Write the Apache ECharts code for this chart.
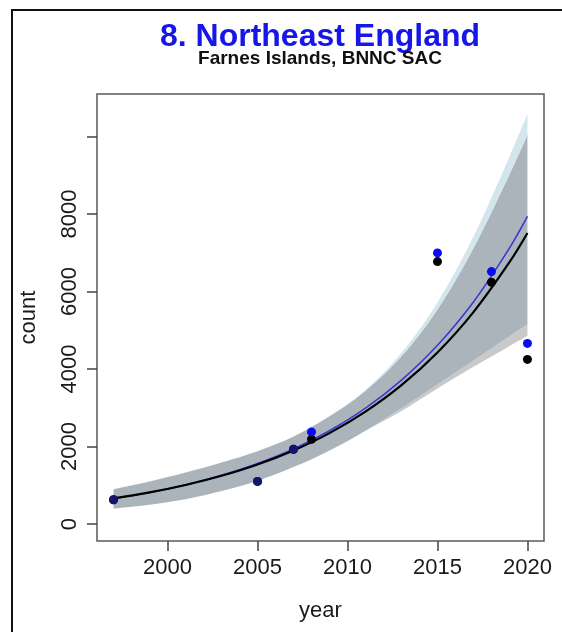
<!DOCTYPE html>
<html>
<head>
<meta charset="utf-8">
<title>8. Northeast England</title>
<script src="https://cdn.jsdelivr.net/npm/echarts@6/dist/echarts.min.js"></script>
<style>
  html, body { margin: 0; padding: 0; background: #fff; }
  #chart { width: 562px; height: 632px; }
</style>
</head>
<body>
<div id="chart"></div>
<script>
// Survey counts (two count series per survey year)
const surveyYears = [1997, 2005, 2007, 2008, 2015, 2018, 2020];
const countsBlue  = [626, 1100, 1931, 2377, 6997, 6516, 4661];
const countsBlack = [626, 1100, 1931, 2189, 6773, 6240, 4249];

// Fitted trend curves and confidence bands, sampled along the years
const fitYears  = [1997, 1999, 2001, 2003, 2005, 2007, 2009, 2011, 2013, 2015, 2017, 2019, 2020];
const fitBlack  = [660, 815, 1007, 1245, 1538, 1900, 2347, 2900, 3583, 4427, 5469, 6757, 7512];
const fitBlue   = [655, 814, 1011, 1256, 1560, 1937, 2407, 2990, 3715, 4614, 5732, 7120, 7938];
const bandOuterLow  = [400, 500, 640, 850, 1120, 1470, 1900, 2410, 2920, 3500, 4060, 4590, 4850];
const bandInnerLow  = [400, 500, 640, 850, 1120, 1470, 1900, 2410, 2990, 3600, 4220, 4840, 5150];
const bandInnerHigh = [900, 1100, 1330, 1590, 1880, 2260, 2780, 3440, 4330, 5540, 7120, 9020, 10050];
const bandOuterHigh = [900, 1100, 1330, 1590, 1880, 2260, 2780, 3460, 4420, 5720, 7420, 9480, 10580];

// Axis ticks and labels
const xTicks  = [2000, 2005, 2010, 2015, 2020];
const yTicks  = [0, 2000, 4000, 6000, 8000, 10000];
const yLabels = [0, 2000, 4000, 6000, 8000];

const FONT = '"Liberation Sans", Arial, Helvetica, sans-serif';

const pairs = (xs, ys) => xs.map((x, i) => [x, ys[i]]);

// Band strips are stacked on the count dimension: rows are [thickness, year]
// so that the first (stackable) dimension is the count, mapped to the y axis.
const strip = (hi, lo) => fitYears.map((yr, i) => [lo ? hi[i] - lo[i] : hi[i], yr]);
const bandLayer = (rows, color) => ({
  type: 'line',
  stack: 'band',
  data: rows,
  encode: { x: 1, y: 0 },
  smooth: 0.35,
  symbol: 'none',
  lineStyle: { width: 0, opacity: 0 },
  areaStyle: color ? { color: color, opacity: 1 } : { opacity: 0 },
  silent: true,
  z: 1
});

const chart = echarts.init(document.getElementById('chart'), null, { renderer: 'canvas' });

chart.setOption({
  animation: false,
  backgroundColor: '#ffffff',
  graphic: [
    {
      type: 'rect',
      shape: { x: 12, y: 10, width: 700, height: 800 },
      style: { fill: 'none', stroke: '#111', lineWidth: 2 },
      z: 0
    },
    {
      type: 'text',
      x: 320, y: 37,
      style: {
        text: '8. Northeast England',
        font: 'bold 32px ' + FONT,
        fill: '#1616e8',
        align: 'center',
        verticalAlign: 'middle'
      }
    },
    {
      type: 'text',
      x: 320, y: 59,
      style: {
        text: 'Farnes Islands, BNNC SAC',
        font: 'bold 19px ' + FONT,
        fill: '#111',
        align: 'center',
        verticalAlign: 'middle'
      }
    }
  ],
  grid: {
    left: 97, top: 94, width: 447, height: 447,
    show: true,
    borderColor: '#5a5a5a',
    borderWidth: 1.5,
    backgroundColor: 'transparent'
  },
  xAxis: {
    type: 'value',
    min: 1996.08,
    max: 2020.92,
    splitLine: { show: false },
    axisLine: { show: false, onZero: false },
    axisTick: {
      show: true,
      customValues: xTicks,
      length: 10,
      lineStyle: { color: '#444', width: 1.5 }
    },
    axisLabel: {
      customValues: xTicks,
      formatter: (v) => String(v),
      fontSize: 22,
      fontFamily: FONT,
      color: '#1a1a1a',
      margin: 16
    },
    name: 'year',
    nameLocation: 'middle',
    nameGap: 59,
    nameTextStyle: { fontSize: 22, fontFamily: FONT, color: '#1a1a1a' }
  },
  yAxis: {
    type: 'value',
    min: -438,
    max: 11099,
    splitLine: { show: false },
    axisLine: { show: false, onZero: false },
    axisTick: {
      show: true,
      customValues: yTicks,
      length: 10,
      lineStyle: { color: '#444', width: 1.5 }
    },
    axisLabel: {
      customValues: yLabels,
      formatter: (v) => String(v),
      rotate: 90,
      fontSize: 22,
      fontFamily: FONT,
      color: '#1a1a1a',
      margin: 16
    },
    name: 'count',
    nameLocation: 'middle',
    nameRotate: 90,
    nameGap: 57,
    nameTextStyle: { fontSize: 22, fontFamily: FONT, color: '#1a1a1a' }
  },
  series: [
    bandLayer(strip(bandOuterLow), null),
    bandLayer(strip(bandInnerLow, bandOuterLow), '#c9c9c9'),
    bandLayer(strip(bandInnerHigh, bandInnerLow), '#abb4ba'),
    bandLayer(strip(bandOuterHigh, bandInnerHigh), '#d4e6ed'),
    {
      type: 'line',
      data: pairs(fitYears, fitBlue),
      smooth: 0.35,
      symbol: 'none',
      lineStyle: { color: '#3a3ad2', width: 1.6 },
      z: 3
    },
    {
      type: 'line',
      data: pairs(fitYears, fitBlack),
      smooth: 0.35,
      symbol: 'none',
      lineStyle: { color: '#000', width: 2.2 },
      z: 4
    },
    {
      type: 'scatter',
      data: pairs(surveyYears, countsBlack),
      symbol: 'circle',
      symbolSize: 9,
      itemStyle: { color: '#000', opacity: 1 },
      z: 5
    },
    {
      type: 'scatter',
      data: pairs(surveyYears, countsBlue),
      symbol: 'circle',
      symbolSize: 9,
      itemStyle: {
        opacity: 1,
        color: (p) => countsBlue[p.dataIndex] === countsBlack[p.dataIndex] ? '#15156e' : '#0a0af5'
      },
      z: 6
    }
  ]
});
</script>
</body>
</html>
